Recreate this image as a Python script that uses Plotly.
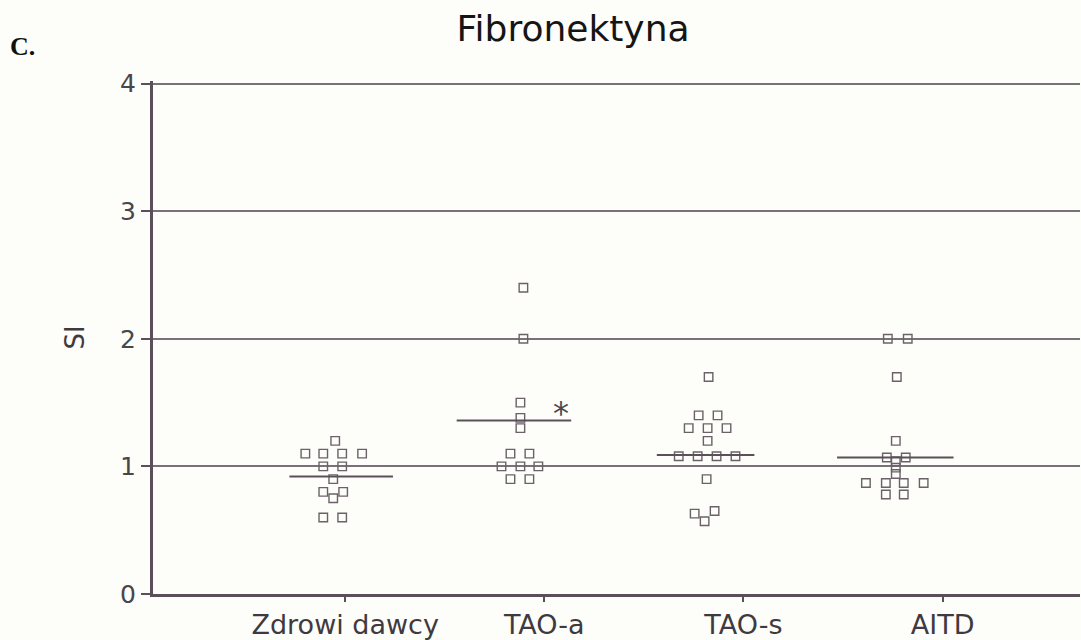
import plotly.graph_objects as go

categories = ["Zdrowi dawcy", "TAO-a", "TAO-s", "AITD"]

# SI values for each group
zdrowi_vals = [1.2, 1.1, 1.1, 1.1, 1.1, 1.0, 1.0, 0.9, 0.8, 0.8, 0.75, 0.6, 0.6]
taoa_vals = [2.4, 2.0, 1.5, 1.38, 1.3, 1.1, 1.1, 1.0, 1.0, 1.0, 0.9, 0.9]
taos_vals = [1.7, 1.4, 1.4, 1.3, 1.3, 1.3, 1.2, 1.08, 1.08, 1.08, 1.08, 0.9, 0.63, 0.65, 0.57]
aitd_vals = [2.0, 2.0, 1.7, 1.2, 1.07, 1.07, 1.04, 0.99, 0.94, 0.87, 0.87, 0.87, 0.87, 0.78, 0.78]

# horizontal scatter offsets (in category units) for the dot-plot
zdrowi_dx = [-0.05, -0.20, -0.11, -0.015, 0.085, -0.11, -0.015, -0.06, -0.11, -0.01, -0.06, -0.11, -0.015]
taoa_dx = [-0.105, -0.105, -0.12, -0.12, -0.12, -0.17, -0.075, -0.215, -0.12, -0.03, -0.17, -0.075]
taos_dx = [-0.175, -0.225, -0.13, -0.275, -0.18, -0.085, -0.18, -0.325, -0.23, -0.135, -0.04, -0.185, -0.245, -0.145, -0.195]
aitd_dx = [-0.275, -0.175, -0.23, -0.235, -0.28, -0.185, -0.235, -0.235, -0.235, -0.385, -0.285, -0.195, -0.095, -0.285, -0.195]

# medians
medians = [0.92, 1.36, 1.09, 1.07]
median_left = [-0.28, -0.44, -0.435, -0.53]
median_right = [0.24, 0.135, 0.055, 0.055]

yticks = [0, 1, 2, 3, 4]

groups_vals = [zdrowi_vals, taoa_vals, taos_vals, aitd_vals]
groups_dx = [zdrowi_dx, taoa_dx, taos_dx, aitd_dx]

AX = "#5b5059"
GRID = "#7a7079"
MK = "#6b6169"
BG = "#fdfdf9"

W, H = 1081, 640
ML, MR, MT, MB = 153, 1, 81, 46
pw, ph = W - ML - MR, H - MT - MB

fig = go.Figure()

for i, (vals, dxs) in enumerate(zip(groups_vals, groups_dx)):
    pos = i + 1
    fig.add_trace(go.Scatter(
        x=[pos + d for d in dxs], y=vals, mode="markers",
        marker=dict(symbol="square-open", size=8.5, color=MK, line=dict(width=1.4, color=MK)),
        showlegend=False, hoverinfo="y"))
    fig.add_trace(go.Scatter(
        x=[pos + median_left[i], pos + median_right[i]], y=[medians[i], medians[i]],
        mode="lines", line=dict(color=AX, width=2), showlegend=False, hoverinfo="skip"))

fig.add_annotation(x=2 + 0.085, y=1.36, text="*", showarrow=False, yanchor="bottom",
                   yshift=-14, font=dict(family="DejaVu Sans", size=32, color="#4d474d"))

fig.add_annotation(x=(22 - ML) / pw, y=(H - MB - 46) / ph, xref="paper", yref="paper",
                   text="<b>C.</b>", showarrow=False, xanchor="center", yanchor="middle",
                   font=dict(family="Liberation Serif", size=26, color="#111111"))

fig.update_layout(
    width=W, height=H,
    margin=dict(l=ML, r=MR, t=MT, b=MB),
    paper_bgcolor=BG, plot_bgcolor=BG,
    title=dict(text="Fibronektyna", x=573 / W, xref="container", xanchor="center",
               y=1 - 28 / H, yref="container", yanchor="middle",
               font=dict(family="DejaVu Sans", size=36, color="#151515")),
    xaxis=dict(
        range=[0.035, 4.69], tickvals=[1, 2, 3, 4], ticktext=categories,
        showgrid=False, zeroline=False, showline=True, linecolor=AX, linewidth=3,
        ticks="outside", ticklen=5, tickwidth=2, tickcolor=AX,
        tickfont=dict(family="DejaVu Sans", size=27, color="#3f3a3f")),
    yaxis=dict(
        range=[0, 4.02], tickvals=yticks, showgrid=True, gridcolor=GRID, gridwidth=1.5,
        zeroline=False, showline=True, linecolor=AX, linewidth=3,
        ticks="outside", ticklen=9, tickwidth=2, tickcolor=AX,
        tickfont=dict(family="DejaVu Sans", size=25, color="#4a454a"),
        title=dict(text="SI", standoff=28, font=dict(family="DejaVu Sans", size=26, color="#3f3a3f"))),
)

fig.write_html("out.html")
